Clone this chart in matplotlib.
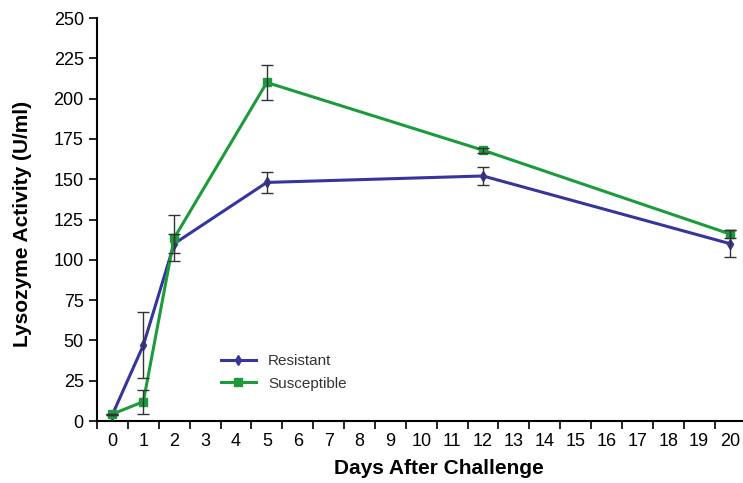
import matplotlib
matplotlib.use("Agg")
import matplotlib.pyplot as plt

plt.rcParams['font.family'] = ['Liberation Sans', 'DejaVu Sans']

days = [0, 1, 2, 5, 12, 20]
resistant = [4, 47, 110, 148, 152, 110]
resistant_err = [0, 20.5, 6, 6.5, 5.6, 8.5]
susceptible = [4.3, 12, 113.5, 210, 168, 116]
susceptible_err = [0, 7.5, 14.5, 11, 1.5, 2.5]
xticks = list(range(0, 21))
yticks = list(range(0, 251, 25))

fig = plt.figure(figsize=(7.43, 4.83), dpi=100)
ax = fig.add_axes([97/743, 62/483, 646/743, 403/483])

blue = '#35359b'
green = '#1c9a3c'

ax.plot(days, resistant, color=blue, lw=2.2, marker='d', ms=5.5, label='Resistant', zorder=3)
ax.plot(days, susceptible, color=green, lw=2.2, marker='s', ms=5.5, label='Susceptible', zorder=4)
ax.errorbar(days, resistant, yerr=resistant_err, fmt='none', ecolor='#333333', elinewidth=1, capsize=4, capthick=1, zorder=5)
ax.errorbar(days, susceptible, yerr=susceptible_err, fmt='none', ecolor='#333333', elinewidth=1, capsize=4, capthick=1, zorder=5)

ax.set_xlim(-0.5, 20.42)
ax.set_ylim(0, 250)
ax.set_xticks(xticks)
ax.set_xticks([x - 0.5 for x in xticks], minor=True)
ax.tick_params(axis='x', which='major', length=0, labelsize=13, pad=9)
ax.tick_params(axis='x', which='minor', length=6, width=1.2, direction='out')
ax.set_yticks(yticks)
ax.tick_params(axis='y', length=6, width=1.2, labelsize=13)

for s in ['top', 'right']:
    ax.spines[s].set_visible(False)
for s in ['left', 'bottom']:
    ax.spines[s].set_linewidth(1.5)

ax.set_xlabel('Days After Challenge', fontsize=15, fontweight='bold')
ax.xaxis.set_label_coords(0.529, -0.095)
ax.set_ylabel('Lysozyme Activity (U/ml)', fontsize=15, fontweight='bold')
ax.yaxis.set_label_coords(-0.1, 0.49)

leg = ax.legend(loc='upper left', bbox_to_anchor=(0.17, 0.2), frameon=False,
                fontsize=11, handlelength=2.3, labelspacing=0.55)
for t in leg.get_texts():
    t.set_color('#333333')

fig.savefig('out.png', dpi=100)
